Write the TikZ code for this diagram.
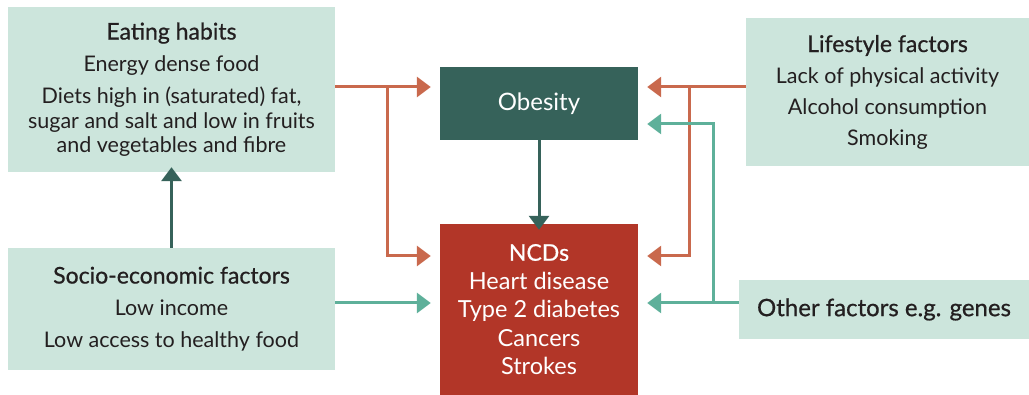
\documentclass[tikz,border=0pt]{standalone}
\usepackage{fontspec}
\setmainfont{Lato}
\newfontfamily\titlefont[FakeBold=0.7]{Lato}
\usetikzlibrary{arrows.meta}
\definecolor{mint}{HTML}{CCE5DC}
\definecolor{darkgreen}{HTML}{36625A}
\definecolor{ncdred}{HTML}{B23628}
\definecolor{rust}{HTML}{C9694D}
\definecolor{teal}{HTML}{5EB09A}
\definecolor{ink}{HTML}{231F20}
\newcommand{\boxtitle}[1]{{\titlefont\fontsize{23}{24}\selectfont #1}}
\begin{document}
\begin{tikzpicture}[x=1pt,y=-1pt,
    lightbox/.style={fill=mint, text=ink, align=center, inner sep=0pt},
    darkbox/.style={fill=darkgreen, text=white, align=center, inner sep=0pt},
    redbox/.style={fill=ncdred, text=white, align=center, inner sep=0pt},
    link/.style={line width=3pt, -{Triangle[length=14pt,width=20pt]}}]
    \useasboundingbox (0,0) rectangle (1029,395);
    % boxes
    \node[lightbox, minimum width=327pt, minimum height=165pt, font=\fontsize{21.5}{24.5}\selectfont] (eat) at (171.5,89.5)
        {\boxtitle{Eating habits}\\[7.5pt] Energy dense food\\[7.5pt] Diets high in (saturated) fat,\\ sugar and salt and low in fruits\\ and vegetables and fibre};
    \node[darkbox, minimum width=198pt, minimum height=73pt, font=\fontsize{24}{24}\selectfont] (obes) at (539,103.5) {Obesity};
    \node[lightbox, minimum width=283pt, minimum height=148pt, font=\fontsize{21.5}{31}\selectfont] (life) at (887.5,92)
        {\boxtitle{Lifestyle factors}\\ Lack of physical activity\\ Alcohol consumption\\ Smoking};
    \node[lightbox, minimum width=327pt, minimum height=122pt, font=\fontsize{21.5}{32}\selectfont] (socio) at (171.5,309)
        {\boxtitle{Socio-economic factors}\\ Low income\\ Low access to healthy food};
    \node[redbox, minimum width=198pt, minimum height=171pt, font=\fontsize{23.5}{28.5}\selectfont] (ncd) at (539,309.5)
        {\boxtitle{NCDs}\\ Heart disease\\ Type 2 diabetes\\ Cancers\\ Strokes};
    \node[lightbox, minimum width=290pt, minimum height=59pt, font=\titlefont\fontsize{24}{24}\selectfont] (other) at (884,309.5) {Other factors e.g. genes};
    % junctions
    \coordinate (eatj) at (387,87);
    \coordinate (lifej) at (689,87);
    \coordinate (otherj) at (713,303);
    % connectors
    \draw[link, rust] (eat.east |- eatj) -- ([xshift=-9pt]obes.west |- eatj);
    \draw[link, rust] (eatj) -- (387,256) -- ([xshift=-9pt]ncd.west |- 0,256);
    \draw[link, rust] (life.west |- lifej) -- ([xshift=9pt]obes.east |- lifej);
    \draw[link, rust] (lifej) -- (689,256) -- ([xshift=9pt]ncd.east |- 0,256);
    \draw[link, teal] (other.west |- otherj) -- ([xshift=9pt]ncd.east |- otherj);
    \draw[link, teal] (otherj) -- (713,124) -- ([xshift=9pt]obes.east |- 0,124);
    \draw[link, teal] (socio.east |- otherj) -- ([xshift=-9pt]ncd.west |- otherj);
    \draw[link, darkgreen] (socio.north) -- ([yshift=5pt]eat.south);
    \draw[link, darkgreen] (obes.south) -- ([yshift=-6pt]ncd.north);
\end{tikzpicture}
\end{document}
